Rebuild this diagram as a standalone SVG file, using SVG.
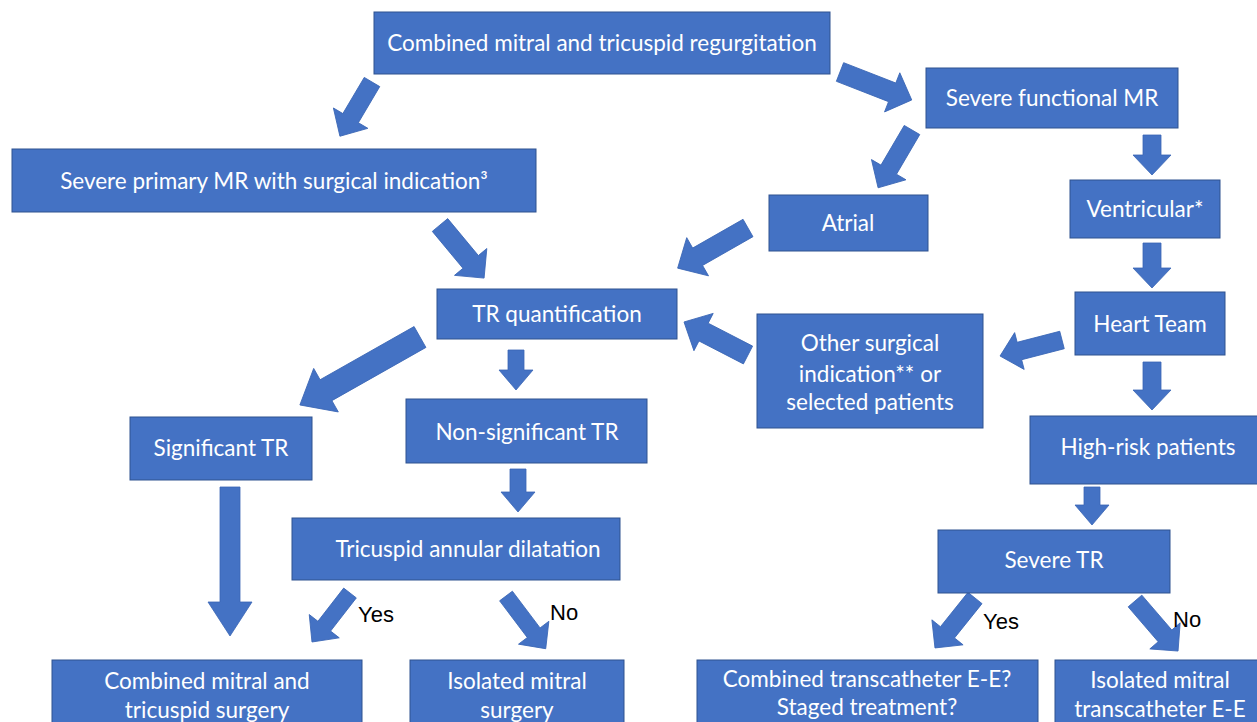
<svg xmlns="http://www.w3.org/2000/svg" width="1257" height="722" viewBox="0 0 1257 722">
<style>
.box{fill:#4472C4;stroke:#2F528F;stroke-width:1}
.t{font-family:Lato,"Open Sans","Liberation Sans",sans-serif;font-size:22.5px;fill:#fff;text-anchor:middle}
.a{fill:#4472C4;stroke:#3A66B5;stroke-width:0.8}
.lbl{font-family:"Liberation Sans",Arial,sans-serif;font-size:22px;fill:#000}
</style>
<rect width="1257" height="722" fill="#fff"/>
<g id="connectors">
<polygon class="a" transform="translate(372,82) rotate(120.6)" points="0,-9 42,-9 42,-20 63,0 42,20 42,9 0,9"/>
<polygon class="a" transform="translate(840,72) rotate(21.3)" points="0,-10 56,-10 56,-21 77,0 56,21 56,10 0,10"/>
<polygon class="a" transform="translate(912,130) rotate(120.4)" points="0,-9 46,-9 46,-20 67,0 46,20 46,9 0,9"/>
<polygon class="a" transform="translate(1152,135) rotate(90)" points="0,-9 20,-9 20,-19 40,0 20,19 20,9 0,9"/>
<polygon class="a" transform="translate(440,225) rotate(50.3)" points="0,-10 48,-10 48,-21 69,0 48,21 48,10 0,10"/>
<polygon class="a" transform="translate(748,228) rotate(150.3)" points="0,-10 58,-10 58,-22 81,0 58,22 58,10 0,10"/>
<polygon class="a" transform="translate(1152,243) rotate(90)" points="0,-9 25,-9 25,-19 45,0 25,19 25,9 0,9"/>
<polygon class="a" transform="translate(1062,340) rotate(165.5)" points="0,-9 44,-9 44,-19 64,0 44,19 44,9 0,9"/>
<polygon class="a" transform="translate(748,355) rotate(207.3)" points="0,-10 50,-10 50,-21 72,0 50,21 50,10 0,10"/>
<polygon class="a" transform="translate(1152,362) rotate(90)" points="0,-9 28,-9 28,-19 48,0 28,19 28,9 0,9"/>
<polygon class="a" transform="translate(420,337) rotate(150.5)" points="0,-12 108,-12 108,-25 138,0 108,25 108,12 0,12"/>
<polygon class="a" transform="translate(516,350) rotate(90)" points="0,-8 20,-8 20,-17 40,0 20,17 20,8 0,8"/>
<polygon class="a" transform="translate(518,469) rotate(90)" points="0,-8 23,-8 23,-17 43,0 23,17 23,8 0,8"/>
<polygon class="a" transform="translate(230,487) rotate(90)" points="0,-10 115,-10 115,-22 149,0 115,22 115,10 0,10"/>
<polygon class="a" transform="translate(350,593) rotate(127.8)" points="0,-8 42,-8 42,-19 62,0 42,19 42,8 0,8"/>
<polygon class="a" transform="translate(506,596) rotate(53)" points="0,-8 46,-8 46,-19 66,0 46,19 46,8 0,8"/>
<polygon class="a" transform="translate(1092,487) rotate(90)" points="0,-8 18,-8 18,-17 38,0 18,17 18,8 0,8"/>
<polygon class="a" transform="translate(975,598) rotate(128.7)" points="0,-9 44,-9 44,-20 64,0 44,20 44,9 0,9"/>
<polygon class="a" transform="translate(1135,601) rotate(49.3)" points="0,-9 46,-9 46,-20 66,0 46,20 46,9 0,9"/>
<text class="lbl" x="358" y="622">Yes</text>
<text class="lbl" x="550" y="620">No</text>
<text class="lbl" x="983" y="629">Yes</text>
<text class="lbl" x="1173" y="627">No</text>
</g>
<g id="n1"><rect class="box" x="374" y="12" width="456" height="62"/><text class="t" x="602" y="51">Combined mitral and tricuspid regurgitation</text></g>
<g id="n2"><rect class="box" x="926" y="68" width="252" height="60"/><text class="t" x="1052" y="106">Severe functional MR</text></g>
<g id="n3"><rect class="box" x="12" y="149" width="524" height="63"/><text class="t" x="274" y="189">Severe primary MR with surgical indication³</text></g>
<g id="n4"><rect class="box" x="769" y="195" width="159" height="56"/><text class="t" x="848" y="231">Atrial</text></g>
<g id="n5"><rect class="box" x="1070" y="180" width="150" height="58"/><text class="t" x="1145" y="217">Ventricular*</text></g>
<g id="n6"><rect class="box" x="437" y="289" width="240" height="50"/><text class="t" x="557" y="322">TR quantification</text></g>
<g id="n7"><rect class="box" x="1075" y="292" width="150" height="63"/><text class="t" x="1150" y="332">Heart Team</text></g>
<g id="n8"><rect class="box" x="757" y="314" width="226" height="114"/><text class="t" x="870" y="351">Other surgical</text><text class="t" x="870" y="382">indication** or</text><text class="t" x="870" y="410">selected patients</text></g>
<g id="n9"><rect class="box" x="130" y="417" width="182" height="63"/><text class="t" x="221" y="456">Significant TR</text></g>
<g id="n10"><rect class="box" x="406" y="399" width="241" height="64"/><text class="t" x="527" y="440">Non-significant TR</text></g>
<g id="n11"><rect class="box" x="1030" y="416" width="230" height="68"/><text class="t" x="1148" y="455">High-risk patients</text></g>
<g id="n12"><rect class="box" x="292" y="518" width="328" height="62"/><text class="t" x="468" y="557">Tricuspid annular dilatation</text></g>
<g id="n13"><rect class="box" x="938" y="530" width="232" height="63"/><text class="t" x="1054" y="568">Severe TR</text></g>
<g id="n14"><rect class="box" x="52" y="660" width="310" height="66"/><text class="t" x="207" y="689">Combined mitral and</text><text class="t" x="207" y="718">tricuspid surgery</text></g>
<g id="n15"><rect class="box" x="410" y="660" width="214" height="66"/><text class="t" x="517" y="689">Isolated mitral</text><text class="t" x="517" y="718">surgery</text></g>
<g id="n16"><rect class="box" x="697" y="660" width="341" height="66"/><text class="t" x="867" y="687">Combined transcatheter E-E?</text><text class="t" x="867" y="715">Staged treatment?</text></g>
<g id="n17"><rect class="box" x="1055" y="660" width="206" height="66"/><text class="t" x="1160" y="688">Isolated mitral</text><text class="t" x="1160" y="717">transcatheter E-E</text></g>
</svg>
